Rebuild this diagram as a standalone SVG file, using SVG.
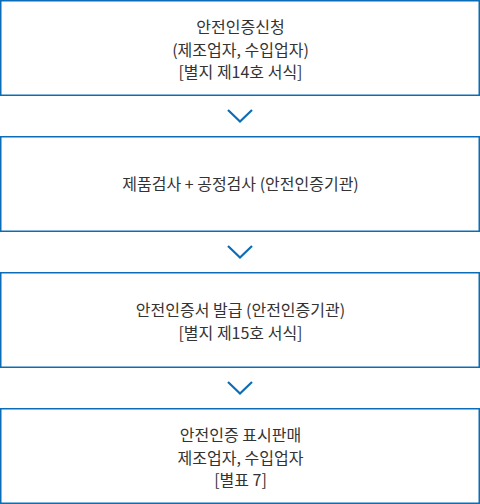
<svg xmlns="http://www.w3.org/2000/svg" width="480" height="504" viewBox="0 0 480 504">
<style>
.box{fill:#fff;stroke:#0b6db8;stroke-width:1.5}
.t{font-family:"Noto Sans CJK KR","Noto Sans",sans-serif;font-size:16px;fill:#333;text-anchor:middle}
.chev{fill:none;stroke:#0b6db8;stroke-width:2.2}
</style>
<rect width="480" height="504" fill="#fff"/>
<g id="connectors">
<polyline class="chev" points="228,110 240,121.5 252,110"/>
<polyline class="chev" points="228,246 240,257.5 252,246"/>
<polyline class="chev" points="228,382 240,393.5 252,382"/>
</g>
<g id="node1">
<rect class="box" x="0.75" y="0.75" width="478.5" height="94.5"/>
<text class="t" x="240.5" y="33">안전인증신청</text>
<text class="t" x="240.5" y="55.5">(제조업자, 수입업자)</text>
<text class="t" x="240.5" y="78">[별지 제14호 서식]</text>
</g>
<g id="node2">
<rect class="box" x="0.75" y="136.75" width="478.5" height="94.5"/>
<text class="t" x="240.5" y="190">제품검사 + 공정검사 (안전인증기관)</text>
</g>
<g id="node3">
<rect class="box" x="0.75" y="272.75" width="478.5" height="94.5"/>
<text class="t" x="240.5" y="316">안전인증서 발급 (안전인증기관)</text>
<text class="t" x="240.5" y="338.5">[별지 제15호 서식]</text>
</g>
<g id="node4">
<rect class="box" x="0.75" y="408.75" width="478.5" height="94.5"/>
<text class="t" x="240.5" y="441">안전인증 표시판매</text>
<text class="t" x="240.5" y="463.5">제조업자, 수입업자</text>
<text class="t" x="240.5" y="486">[별표 7]</text>
</g>
</svg>
